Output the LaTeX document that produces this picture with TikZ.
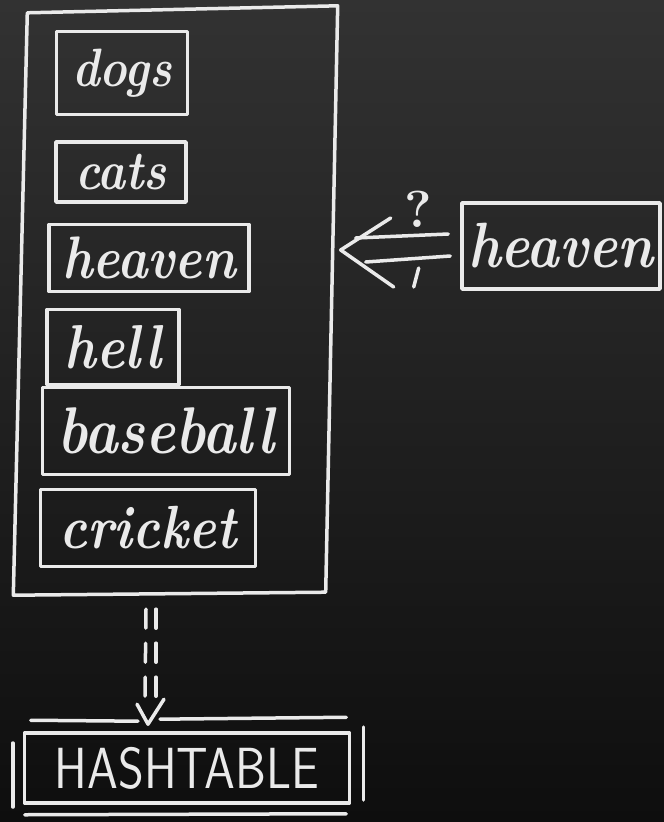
\documentclass[tikz,border=0pt]{standalone}
\usepackage{graphicx}
\usetikzlibrary{calc}
\definecolor{chalk}{HTML}{EAEAEA}
\definecolor{bgtop}{HTML}{323232}
\definecolor{bgbot}{HTML}{0E0E0E}
\newcommand\wsize[1]{\fontsize{#1}{#1}\selectfont}
\newcommand\cw[1]{\scalebox{0.86}[1]{#1}}
\begin{document}
\begin{tikzpicture}[x=1pt,y=-1pt,
  chalkline/.style={draw=chalk, line width=3.5pt, line cap=round, line join=round},
  wordbox/.style={chalkline, rectangle, inner sep=0pt, text=chalk},
  dashedchalk/.style={chalkline, dash pattern=on 19pt off 15pt}]
\path[top color=bgtop, bottom color=bgbot] (0,0) rectangle (664,822);
\useasboundingbox (0,0) rectangle (664,822);

% container (hand-drawn, slightly skewed outline)
\node[rectangle, inner sep=0pt, minimum width=313pt, minimum height=582pt] (list) at (176,302) {};
\draw[chalkline] ($(list.north west)+(8,2)$) -- ($(list.north east)+(5,-5)$)
  -- ($(list.south east)+(-7,-1)$) -- ($(list.south west)+(-6,2)$) -- cycle;

% words
\node[wordbox, minimum width=131pt, minimum height=83pt, font=\bfseries\itshape\wsize{54}] (dogs) at (122,73) {\cw{dogs}};
\node[wordbox, minimum width=130pt, minimum height=60pt, font=\bfseries\itshape\wsize{55}] (cats) at (121,172) {\cw{cats}};
\node[wordbox, minimum width=200pt, minimum height=67pt, font=\bfseries\itshape\wsize{60}] (heaven) at (149,258) {\cw{heaven}};
\node[wordbox, minimum width=132pt, minimum height=75pt, font=\bfseries\itshape\wsize{62}] (hell) at (113,347) {\cw{hell}};
\node[wordbox, minimum width=247pt, minimum height=87pt, font=\bfseries\itshape\wsize{66}] (baseball) at (166,431) {\cw{baseball}};
\node[wordbox, minimum width=215pt, minimum height=77pt, font=\bfseries\itshape\wsize{61}] (cricket) at (148,528) {\cw{cricket}};

% query
\node[wordbox, minimum width=198pt, minimum height=86pt, font=\bfseries\itshape\wsize{64}] (query) at (561,246) {\cw{heaven}};

% double arrow into the list
\coordinate (tip) at ($(list.east |- query.west)+(8,4)$);
\draw[chalkline] ($(tip)+(50,-32)$) -- (tip) -- ($(tip)+(53,37)$);
\draw[chalkline] ($(query.west)+(-12,-12)$) -- ($(tip)+(15,-12)$);
\draw[chalkline] ($(query.west)+(-10,10)$) -- ($(tip)+(25,12)$);
\node[text=chalk, font=\bfseries\wsize{52}] (qmark) at ($(tip)+(78,-41)$) {?};
\draw[chalkline] ($(tip)+(78,18)$) .. controls ($(tip)+(76,27)$) .. ($(tip)+(73,37)$);

% dashed double arrow down to the hashtable
\node[chalkline, text=chalk, minimum width=325pt, minimum height=70pt, inner sep=0pt, font=\sffamily\wsize{58}] (hash) at (187,768) {\scalebox{0.85}[1]{HASHTABLE}};
\coordinate (dtip) at ($(list.south)+(-28,131)$);
\draw[dashedchalk] ($(list.south)+(-30,16)$) -- ($(list.south)+(-31,104)$);
\draw[dashedchalk] ($(list.south)+(-20,16)$) -- ($(list.south)+(-20,104)$);
\draw[chalkline] ($(dtip)+(-11,-20)$) -- (dtip) -- ($(dtip)+(16,-25)$);

% frame lines around the hashtable
\draw[chalkline] ($(hash.north west)+(8,-11)$) -- ($(dtip)+(-10,-3)$);
\draw[chalkline] ($(dtip)+(12,-5)$) -- ($(hash.north east)+(-5,-14)$);
\draw[chalkline] ($(hash.south west)+(2,10)$) -- ($(hash.south east)+(-5,9)$);
\draw[chalkline] ($(hash.west)+(-10,-25)$) -- ($(hash.west)+(-10,39)$);
\draw[chalkline] ($(hash.east)+(12,-41)$) -- ($(hash.east)+(12,32)$);
\end{tikzpicture}
\end{document}
